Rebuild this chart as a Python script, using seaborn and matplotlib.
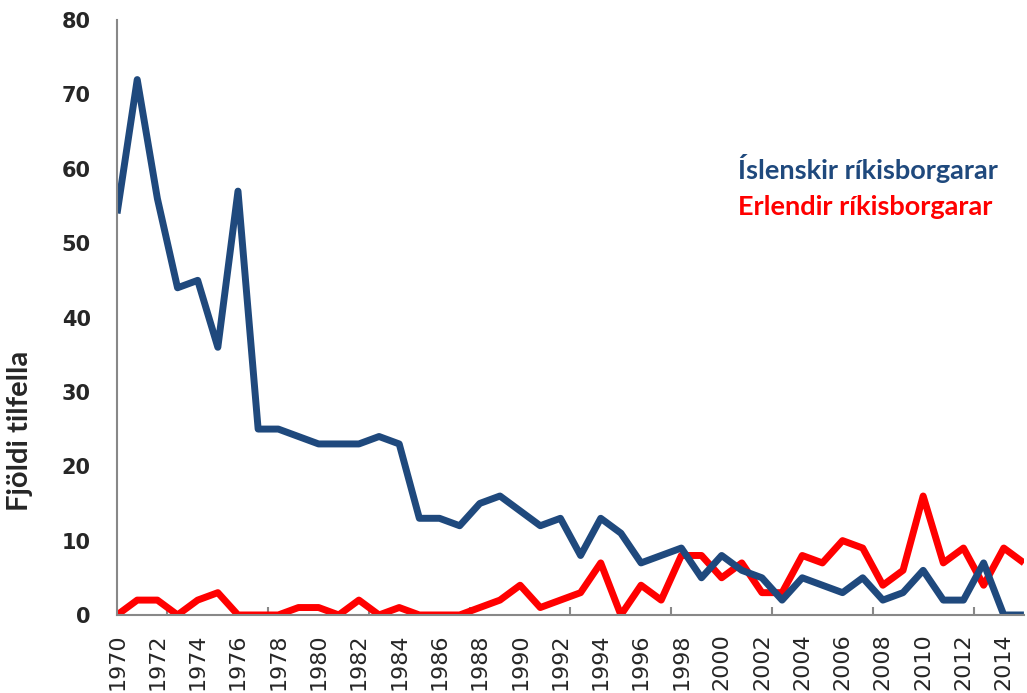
import numpy as np
import pandas as pd
import matplotlib
matplotlib.use("Agg")
import matplotlib.pyplot as plt
import seaborn as sns
from matplotlib.ticker import MultipleLocator

years = list(range(1970, 2016))
islenskir = [54, 72, 56, 44, 45, 36, 57, 25, 25, 24, 23, 23, 23, 24, 23, 13, 13, 12, 15, 16,
             14, 12, 13, 8, 13, 11, 7, 8, 9, 5, 8, 6, 5, 2, 5, 4, 3, 5, 2, 3,
             6, 2, 2, 7, 0, 0]
erlendir = [0, 2, 2, 0, 2, 3, 0, 0, 0, 1, 1, 0, 2, 0, 1, 0, 0, 0, 1, 2,
            4, 1, 2, 3, 7, 0, 4, 2, 8, 8, 5, 7, 3, 3, 8, 7, 10, 9, 4, 6,
            16, 7, 9, 4, 9, 7]
label_isl = "Íslenskir ríkisborgarar"
label_erl = "Erlendir ríkisborgarar"
blue = "#1F497D"
red = "#FF0000"

df = pd.DataFrame({
    "year": years * 2,
    "value": erlendir + islenskir,
    "series": [label_erl] * len(years) + [label_isl] * len(years),
})

sns.set_style("white")
fig = plt.figure(figsize=(10.27, 6.93), dpi=100)
ax = fig.add_axes([0.114, 0.1126, 0.883, 0.8584])

sns.lineplot(data=df, x="year", y="value", hue="series",
             hue_order=[label_erl, label_isl],
             palette={label_erl: red, label_isl: blue},
             linewidth=5, legend=False, ax=ax)
for ln in ax.lines:
    ln.set_solid_joinstyle("round")
    ln.set_solid_capstyle("butt")

ax.set_xlim(1970, 2015)
ax.set_ylim(0, 80)

for s in ["top", "right"]:
    ax.spines[s].set_visible(False)
for s in ["left", "bottom"]:
    ax.spines[s].set_color("#888888")
    ax.spines[s].set_linewidth(1.5)

ax.yaxis.set_major_locator(MultipleLocator(10))
ax.tick_params(axis="y", direction="out", length=7, width=1.5, color="#888888",
               labelsize=15, pad=12)
for t in ax.get_yticklabels():
    t.set_fontweight("bold")

ax.set_xticks(list(range(1970, 2015, 2)))
ax.set_xticklabels([str(y) for y in range(1970, 2015, 2)], rotation=90,
                   fontsize=16)
ax.tick_params(axis="x", which="major", length=0, pad=13)
ax.set_xticks(list(range(1970, 2016, 5)), minor=True)
ax.tick_params(axis="x", which="minor", direction="out", length=8, width=1.5,
               color="#888888")
sec = ax.secondary_xaxis("bottom")
sec.set_xticks([1972.5 + 5 * i for i in range(9)])
sec.tick_params(direction="in", length=6, width=1.5, color="#888888",
                labelbottom=False)
sec.spines["bottom"].set_visible(False)

ax.set_xlabel("")
ax.set_ylabel("Fjöldi tilfella", fontsize=21, fontweight="bold",
              family=["Lato", "DejaVu Sans"])
ax.yaxis.set_label_coords(-0.0926, 0.31)

ax.text(0.685, 0.751, label_isl, transform=ax.transAxes, color=blue, va="center",
        fontsize=19.5, fontweight="bold", family=["Lato", "DejaVu Sans"])
ax.text(0.685, 0.686, label_erl, transform=ax.transAxes, color=red, va="center",
        fontsize=19.5, fontweight="bold", family=["Lato", "DejaVu Sans"])

fig.savefig("out.png", dpi=100)
